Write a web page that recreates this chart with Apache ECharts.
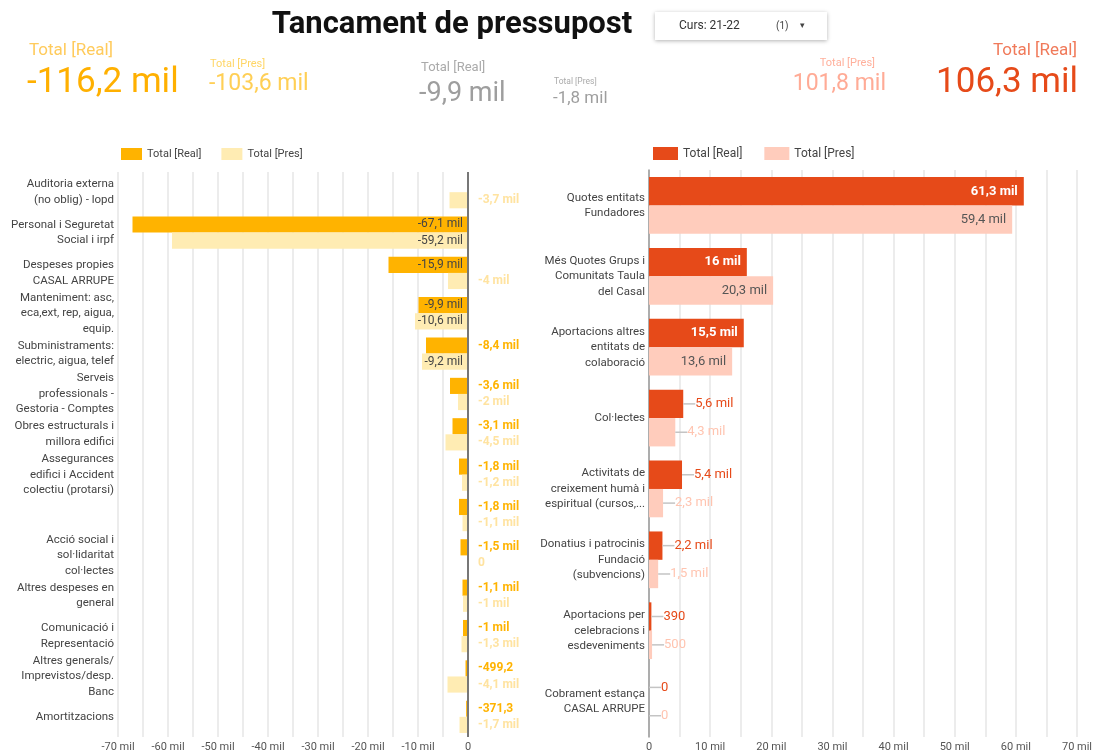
<!DOCTYPE html>
<html>
<head>
<meta charset="utf-8">
<script src="https://cdn.jsdelivr.net/npm/echarts@6/dist/echarts.min.js"></script>
<style>
html, body { margin: 0; padding: 0; background: #fff; }
#chart { width: 1096px; height: 756px; }
</style>
</head>
<body>
<div id="chart"></div>
<script>
// despeses (esquerra)
const despesesCats = [
    'Auditoria externa\n(no oblig) - lopd',
    'Personal i Seguretat\nSocial i irpf',
    'Despeses propies\nCASAL ARRUPE',
    'Manteniment: asc,\neca,ext, rep, aigua,\nequip.',
    'Subministraments:\nelectric, aigua, telef',
    'Serveis\nprofessionals -\nGestoria - Comptes',
    'Obres estructurals i\nmillora edifici',
    'Assegurances\nedifici i Accident\ncolectiu (protarsi)',
    '',
    'Acció social i\nsol·lidaritat\ncol·lectes',
    'Altres despeses en\ngeneral',
    'Comunicació i\nRepresentació',
    'Altres generals/\nImprevistos/desp.\nBanc',
    'Amortitzacions'
];
const despesesReal = [null, -67100, -15900, -9900, -8400, -3600, -3100, -1800, -1800, -1500, -1100, -1000, -499.2, -371.3];
const despesesPres = [-3700, -59200, -4000, -10600, -9200, -2000, -4500, -1200, -1100, 0, -1000, -1300, -4100, -1700];

// ingressos (dreta)
const ingressosCats = [
    'Quotes entitats\nFundadores',
    'Més Quotes Grups i\nComunitats Taula\ndel Casal',
    'Aportacions altres\nentitats de\ncolaboració',
    'Col·lectes',
    'Activitats de\ncreixement humà i\nespiritual (cursos,...',
    'Donatius i patrocinis\nFundació\n(subvencions)',
    'Aportacions per\ncelebracions i\nesdeveniments',
    'Cobrament estança\nCASAL ARRUPE'
];
const ingressosReal = [61300, 16000, 15500, 5600, 5400, 2200, 390, 0];
const ingressosPres = [59400, 20300, 13600, 4300, 2300, 1500, 500, 0];

// totals de la capçalera
const kpiNames = ['Total [Real]', 'Total [Pres]', 'Total [Real]', 'Total [Pres]', 'Total [Pres]', 'Total [Real]'];
const kpiValues = [-116200, -103600, -9900, -1800, 101800, 106300];

const FONT = 'Roboto, "Noto Sans", sans-serif';

function fmt(v) {
    if (v === null || v === undefined || v === '-') return '';
    if (Math.abs(v) >= 1000) {
        return (Math.round(v / 100) / 10).toString().replace('.', ',') + ' mil';
    }
    return (Math.round(v * 10) / 10).toString().replace('.', ',');
}

function leftData(vals, outColor) {
    return vals.map(function (v) {
        if (v === null) return '-';
        if (Math.abs(v) >= 9000) {
            return { value: v, label: { position: 'insideRight', color: '#444', fontWeight: 'normal', distance: 5 } };
        }
        return { value: v, label: { position: 'right', color: outColor, fontWeight: 'bold', distance: 10 } };
    });
}

function rightData(vals, inColor, inWeight) {
    return vals.map(function (v) {
        if (v >= 10000) {
            return { value: v, label: { position: 'insideRight', color: inColor, fontWeight: inWeight, distance: 6 } };
        }
        return { value: v, label: { position: 'right', distance: 0 } };
    });
}

function rightLabel(outColor) {
    return {
        show: true,
        fontFamily: FONT,
        fontSize: 13,
        formatter: function (p) {
            if (p.value >= 10000) return fmt(p.value);
            return '{d| }{v|' + fmt(p.value) + '}';
        },
        rich: {
            d: { width: 12, height: 1.5, backgroundColor: '#c4c4c4', verticalAlign: 'middle' },
            v: { color: outColor, fontSize: 13, fontFamily: FONT }
        }
    };
}

function kpiText(x, y, text, size, color, align) {
    return {
        type: 'text', x: x, y: y, silent: true,
        style: { text: text, font: size + 'px ' + FONT, fill: color, align: align, verticalAlign: 'middle' }
    };
}

const chart = echarts.init(document.getElementById('chart'));

chart.setOption({
    animation: false,
    textStyle: { fontFamily: FONT },
    graphic: [
        { type: 'text', x: 452, y: 25, style: { text: 'Tancament de pressupost', font: 'bold 31px ' + FONT, fill: '#111', align: 'center', verticalAlign: 'middle' } },
        { type: 'rect', shape: { x: 655, y: 12, width: 172, height: 28 }, style: { fill: '#fff', shadowBlur: 4, shadowOffsetY: 1, shadowColor: 'rgba(0,0,0,0.3)' } },
        { type: 'text', x: 679, y: 26, style: { text: 'Curs: 21-22', font: '12px ' + FONT, fill: '#333', verticalAlign: 'middle' } },
        { type: 'text', x: 776, y: 26, style: { text: '(1)', font: '10px ' + FONT, fill: '#444', verticalAlign: 'middle' } },
        { type: 'text', x: 800, y: 26, style: { text: '▾', font: '9px ' + FONT, fill: '#444', verticalAlign: 'middle' } },

        kpiText(29, 51, kpiNames[0], 17, '#ffcb5c', 'left'),
        kpiText(27, 83, fmt(kpiValues[0]), 35, '#ffb000', 'left'),
        kpiText(210, 64, kpiNames[1], 11, '#ffd666', 'left'),
        kpiText(209, 84, fmt(kpiValues[1]), 23, '#ffcf55', 'left'),
        kpiText(421, 68, kpiNames[2], 13, '#aaaaaa', 'left'),
        kpiText(419, 94, fmt(kpiValues[2]), 27, '#9e9e9e', 'left'),
        kpiText(554, 82, kpiNames[3], 8.5, '#aaaaaa', 'left'),
        kpiText(553, 99, fmt(kpiValues[3]), 17, '#9e9e9e', 'left'),
        kpiText(875, 63, kpiNames[4], 11, '#ffb09c', 'right'),
        kpiText(886, 84, fmt(kpiValues[4]), 23, '#ffab96', 'right'),
        kpiText(1077, 51, kpiNames[5], 17, '#f07a5a', 'right'),
        kpiText(1078, 83, fmt(kpiValues[5]), 35, '#e64a19', 'right')
    ],
    legend: [
        {
            left: 116, top: 143, icon: 'rect', itemWidth: 21, itemHeight: 12, itemGap: 20,
            textStyle: { fontSize: 11, color: '#444', fontFamily: FONT },
            data: [
                { name: 'Total [Real]', itemStyle: { color: '#ffb300' } },
                { name: 'Total [Pres]', itemStyle: { color: '#ffecb3' } }
            ]
        },
        {
            left: 648, top: 142, icon: 'rect', itemWidth: 25, itemHeight: 13, itemGap: 22,
            textStyle: { fontSize: 12, color: '#444', fontFamily: FONT },
            data: [
                { name: 'Total [Real]', itemStyle: { color: '#e64a19' } },
                { name: 'Total [Pres]', itemStyle: { color: '#ffccbc' } }
            ]
        }
    ],
    grid: [
        { left: 118, top: 172, width: 350, height: 565 },
        { left: 649, top: 170, width: 428, height: 567 }
    ],
    xAxis: [
        {
            gridIndex: 0, type: 'value', min: -70000, max: 0, interval: 5000,
            axisLine: { show: false }, axisTick: { show: false },
            splitLine: { lineStyle: { color: '#e6e6e6', width: 1.5 } },
            axisLabel: {
                color: '#555', fontSize: 11, margin: 5,
                formatter: function (v) { return v % 10000 !== 0 ? '' : (v === 0 ? '0' : v / 1000 + ' mil'); }
            }
        },
        {
            gridIndex: 1, type: 'value', min: 0, max: 70000, interval: 5000,
            axisLine: { show: false }, axisTick: { show: false },
            splitLine: { lineStyle: { color: '#e6e6e6', width: 1.5 } },
            axisLabel: {
                color: '#555', fontSize: 11, margin: 5,
                formatter: function (v) { return v % 10000 !== 0 ? '' : (v === 0 ? '0' : v / 1000 + ' mil'); }
            }
        }
    ],
    yAxis: [
        {
            gridIndex: 0, type: 'category', inverse: true, data: despesesCats,
            axisLine: { show: false, onZero: false }, axisTick: { show: false },
            axisLabel: { color: '#444', fontSize: 11.5, lineHeight: 15.5, margin: 4, align: 'right' }
        },
        {
            gridIndex: 1, type: 'category', inverse: true, data: ingressosCats,
            axisLine: { show: true, lineStyle: { color: '#999', width: 1.5 } }, axisTick: { show: false },
            axisLabel: { color: '#444', fontSize: 11.5, lineHeight: 15.5, margin: 4, align: 'right' }
        }
    ],
    series: [
        {
            name: 'Total [Real]', type: 'bar', xAxisIndex: 0, yAxisIndex: 0,
            barGap: '0%', barCategoryGap: '20%',
            itemStyle: { color: '#ffb300' },
            label: { show: true, fontSize: 12, fontFamily: FONT, formatter: function (p) { return fmt(p.value); } },
            data: leftData(despesesReal, '#ffb300'),
            markLine: {
                silent: true, symbol: 'none', label: { show: false },
                lineStyle: { color: '#777', width: 2, type: 'solid' },
                data: [{ xAxis: 0 }]
            }
        },
        {
            name: 'Total [Pres]', type: 'bar', xAxisIndex: 0, yAxisIndex: 0,
            barGap: '0%', barCategoryGap: '20%',
            itemStyle: { color: '#ffecb3' },
            label: { show: true, fontSize: 12, fontFamily: FONT, formatter: function (p) { return fmt(p.value); } },
            data: leftData(despesesPres, '#ffe3a0')
        },
        {
            name: 'Total [Real]', type: 'bar', xAxisIndex: 1, yAxisIndex: 1,
            barGap: '0%', barCategoryGap: '20%',
            itemStyle: { color: '#e64a19' },
            label: rightLabel('#e64a19'),
            data: rightData(ingressosReal, '#fff', 'bold')
        },
        {
            name: 'Total [Pres]', type: 'bar', xAxisIndex: 1, yAxisIndex: 1,
            barGap: '0%', barCategoryGap: '20%',
            itemStyle: { color: '#ffccbc' },
            label: rightLabel('#ffc4b0'),
            data: rightData(ingressosPres, '#555', 'normal')
        }
    ]
});
</script>
</body>
</html>
